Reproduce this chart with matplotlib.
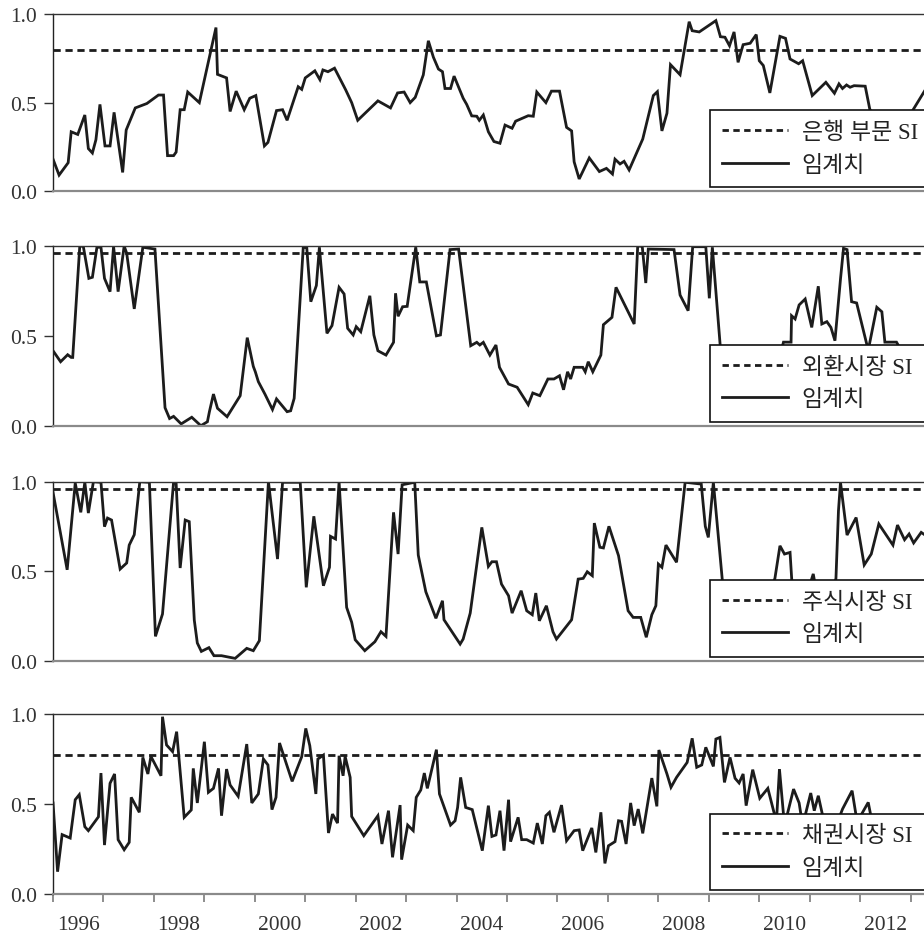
import matplotlib
matplotlib.use("Agg")
import matplotlib.pyplot as plt
from matplotlib.font_manager import FontProperties
from matplotlib.lines import Line2D

plt.rcParams['font.family'] = ['Liberation Serif', 'Noto Sans CJK KR', 'DejaVu Sans']

# 은행 부문 SI
bank_year = [1996.00, 1996.12, 1996.30, 1996.36, 1996.49, 1996.63, 1996.70, 1996.78, 1996.85, 1996.93,
             1997.03, 1997.13, 1997.21, 1997.38, 1997.45, 1997.63, 1997.86, 1998.09, 1998.19, 1998.27,
             1998.39, 1998.44, 1998.52, 1998.60, 1998.67, 1998.90, 1999.23, 1999.26, 1999.44, 1999.51,
             1999.63, 1999.79, 1999.90, 2000.02, 2000.19, 2000.26, 2000.43, 2000.55, 2000.64, 2000.86,
             2000.93, 2001.00, 2001.19, 2001.29, 2001.35, 2001.45, 2001.58, 2001.80, 2001.92, 2002.04,
             2002.44, 2002.69, 2002.83, 2002.96, 2003.08, 2003.18, 2003.34, 2003.44, 2003.54, 2003.64,
             2003.72, 2003.77, 2003.88, 2003.95, 2004.13, 2004.20, 2004.30, 2004.40, 2004.45, 2004.53,
             2004.63, 2004.74, 2004.86, 2004.96, 2005.10, 2005.17, 2005.42, 2005.52, 2005.59, 2005.77,
             2005.88, 2006.04, 2006.18, 2006.28, 2006.33, 2006.43, 2006.63, 2006.83, 2006.97, 2007.09,
             2007.14, 2007.24, 2007.32, 2007.42, 2007.69, 2007.90, 2007.98, 2008.07, 2008.17, 2008.24,
             2008.43, 2008.61, 2008.67, 2008.81, 2009.14, 2009.23, 2009.32, 2009.41, 2009.50, 2009.58,
             2009.68, 2009.82, 2009.94, 2010.00, 2010.08, 2010.21, 2010.41, 2010.52, 2010.61, 2010.78,
             2010.86, 2011.05, 2011.32, 2011.49, 2011.58, 2011.65, 2011.73, 2011.80, 2011.88, 2012.10,
             2012.19, 2012.35, 2012.60, 2012.85, 2013.05, 2013.35]
bank_si = [0.18, 0.09, 0.16, 0.335, 0.32, 0.43, 0.24, 0.215, 0.29, 0.49,
           0.255, 0.255, 0.445, 0.105, 0.345, 0.47, 0.495, 0.543, 0.543, 0.20,
           0.20, 0.22, 0.46, 0.46, 0.56, 0.50, 0.925, 0.66, 0.64, 0.45,
           0.565, 0.46, 0.525, 0.54, 0.255, 0.275, 0.455, 0.46, 0.40, 0.59,
           0.575, 0.64, 0.68, 0.63, 0.685, 0.675, 0.695, 0.573, 0.50, 0.40,
           0.51, 0.47, 0.555, 0.56, 0.50, 0.53, 0.657, 0.85, 0.757, 0.69,
           0.675, 0.58, 0.58, 0.65, 0.525, 0.49, 0.425, 0.423, 0.40, 0.43,
           0.335, 0.28, 0.27, 0.373, 0.355, 0.395, 0.426, 0.423, 0.56, 0.50,
           0.565, 0.565, 0.36, 0.34, 0.165, 0.068, 0.187, 0.11, 0.128, 0.096,
           0.18, 0.153, 0.168, 0.119, 0.294, 0.54, 0.562, 0.34, 0.44, 0.715,
           0.658, 0.958, 0.907, 0.90, 0.964, 0.873, 0.87, 0.822, 0.90, 0.728,
           0.828, 0.836, 0.885, 0.737, 0.71, 0.555, 0.875, 0.864, 0.747, 0.72,
           0.737, 0.54, 0.615, 0.553, 0.606, 0.58, 0.60, 0.587, 0.596, 0.593,
           0.464, 0.38, 0.32, 0.36, 0.46, 0.60]

# 외환시장 SI
fx_year = [1996.00, 1996.15, 1996.29, 1996.36, 1996.39, 1996.53, 1996.60, 1996.71, 1996.78, 1996.87,
           1996.95, 1997.02, 1997.13, 1997.20, 1997.29, 1997.41, 1997.46, 1997.61, 1997.78, 1998.02,
           1998.22, 1998.31, 1998.39, 1998.54, 1998.75, 1998.93, 1999.06, 1999.10, 1999.18, 1999.26,
           1999.45, 1999.71, 1999.85, 1999.97, 2000.01, 2000.07, 2000.20, 2000.35, 2000.43, 2000.64,
           2000.71, 2000.78, 2000.96, 2001.03, 2001.11, 2001.22, 2001.28, 2001.43, 2001.53, 2001.67,
           2001.77, 2001.84, 2001.95, 2002.01, 2002.10, 2002.28, 2002.36, 2002.44, 2002.60, 2002.75,
           2002.79, 2002.84, 2002.93, 2003.02, 2003.19, 2003.27, 2003.40, 2003.60, 2003.68, 2003.87,
           2004.04, 2004.28, 2004.40, 2004.46, 2004.53, 2004.66, 2004.78, 2004.85, 2005.03, 2005.20,
           2005.42, 2005.51, 2005.65, 2005.81, 2005.93, 2006.04, 2006.12, 2006.20, 2006.26, 2006.33,
           2006.50, 2006.55, 2006.61, 2006.70, 2006.86, 2006.91, 2007.08, 2007.16, 2007.52, 2007.59,
           2007.68, 2007.75, 2007.80, 2008.31, 2008.43, 2008.59, 2008.68, 2008.94, 2009.01, 2009.07,
           2009.25, 2009.50, 2009.80, 2010.10, 2010.40, 2010.48, 2010.63, 2010.64, 2010.71, 2010.79,
           2010.91, 2011.04, 2011.17, 2011.24, 2011.34, 2011.42, 2011.50, 2011.61, 2011.67, 2011.74,
           2011.83, 2011.93, 2012.16, 2012.33, 2012.43, 2012.49, 2012.72, 2012.90, 2013.35]
fx_si = [0.417, 0.356, 0.395, 0.38, 0.38, 1.0, 0.998, 0.82, 0.826, 0.993,
         0.993, 0.82, 0.746, 0.998, 0.746, 1.0, 0.96, 0.65, 0.993, 0.983,
         0.10, 0.04, 0.052, 0.01, 0.047, 0.0, 0.022, 0.078, 0.176, 0.097,
         0.05, 0.167, 0.49, 0.33, 0.30, 0.245, 0.176, 0.09, 0.149, 0.078,
         0.083, 0.152, 0.993, 0.99, 0.69, 0.78, 0.993, 0.514, 0.557, 0.77,
         0.733, 0.542, 0.505, 0.551, 0.523, 0.723, 0.505, 0.417, 0.393, 0.464,
         0.737, 0.609, 0.662, 0.664, 0.993, 0.80, 0.80, 0.50, 0.505, 0.98,
         0.983, 0.445, 0.464, 0.449, 0.464, 0.393, 0.449, 0.325, 0.232, 0.214,
         0.117, 0.182, 0.167, 0.26, 0.26, 0.278, 0.20, 0.30, 0.26, 0.325,
         0.325, 0.30, 0.356, 0.30, 0.393, 0.562, 0.603, 0.77, 0.566, 1.0,
         0.998, 0.794, 0.983, 0.98, 0.727, 0.64, 0.996, 0.996, 0.709, 0.993,
         0.36, 0.27, 0.31, 0.28, 0.38, 0.465, 0.465, 0.612, 0.594, 0.672,
         0.705, 0.547, 0.776, 0.566, 0.579, 0.547, 0.473, 0.816, 0.987, 0.98,
         0.69, 0.683, 0.42, 0.659, 0.634, 0.465, 0.465, 0.38, 0.40]

# 주식시장 SI
stock_year = [1996.00, 1996.28, 1996.44, 1996.55, 1996.63, 1996.70, 1996.80, 1996.95, 1997.02, 1997.08,
              1997.16, 1997.33, 1997.46, 1997.51, 1997.61, 1997.72, 1997.91, 1998.03, 1998.17, 1998.39,
              1998.44, 1998.52, 1998.62, 1998.70, 1998.80, 1998.86, 1998.94, 1999.09, 1999.19, 1999.34,
              1999.61, 1999.84, 1999.97, 2000.09, 2000.27, 2000.45, 2000.55, 2000.90, 2001.02, 2001.17,
              2001.36, 2001.48, 2001.50, 2001.60, 2001.67, 2001.82, 2001.92, 2001.99, 2002.18, 2002.38,
              2002.50, 2002.60, 2002.75, 2002.84, 2002.92, 2003.17, 2003.24, 2003.39, 2003.59, 2003.72,
              2003.75, 2004.07, 2004.13, 2004.27, 2004.50, 2004.63, 2004.70, 2004.79, 2004.89, 2005.03,
              2005.10, 2005.28, 2005.39, 2005.50, 2005.57, 2005.64, 2005.78, 2005.91, 2005.98, 2006.28,
              2006.41, 2006.51, 2006.59, 2006.69, 2006.73, 2006.84, 2006.91, 2007.02, 2007.21, 2007.40,
              2007.50, 2007.65, 2007.76, 2007.87, 2007.95, 2008.00, 2008.07, 2008.15, 2008.36, 2008.53,
              2008.85, 2008.93, 2008.99, 2009.09, 2009.30, 2009.60, 2009.90, 2010.20, 2010.31, 2010.41,
              2010.50, 2010.61, 2010.66, 2010.90, 2011.07, 2011.15, 2011.40, 2011.52, 2011.57, 2011.61,
              2011.74, 2011.92, 2012.08, 2012.22, 2012.37, 2012.65, 2012.74, 2012.88, 2012.97, 2013.06,
              2013.21, 2013.35]
stock_si = [0.94, 0.508, 0.993, 0.829, 0.997, 0.825, 1.0, 0.997, 0.749, 0.797,
            0.786, 0.512, 0.546, 0.646, 0.704, 1.0, 0.997, 0.136, 0.261, 1.0,
            0.993, 0.518, 0.786, 0.777, 0.227, 0.099, 0.052, 0.073, 0.028, 0.028,
            0.013, 0.069, 0.056, 0.112, 1.0, 0.568, 0.997, 0.997, 0.41, 0.807,
            0.419, 0.522, 0.695, 0.68, 1.0, 0.298, 0.215, 0.117, 0.056, 0.106,
            0.162, 0.136, 0.829, 0.596, 0.983, 0.997, 0.59, 0.385, 0.237, 0.335,
            0.229, 0.093, 0.121, 0.266, 0.745, 0.527, 0.553, 0.553, 0.428, 0.363,
            0.266, 0.391, 0.279, 0.257, 0.378, 0.223, 0.307, 0.162, 0.121, 0.229,
            0.456, 0.46, 0.497, 0.475, 0.769, 0.634, 0.63, 0.751, 0.587, 0.279,
            0.242, 0.242, 0.131, 0.257, 0.307, 0.54, 0.522, 0.646, 0.55, 0.997,
            0.987, 0.751, 0.689, 0.997, 0.35, 0.28, 0.33, 0.38, 0.46, 0.642,
            0.596, 0.605, 0.38, 0.33, 0.485, 0.36, 0.33, 0.46, 0.838, 0.997,
            0.702, 0.80, 0.535, 0.596, 0.764, 0.646, 0.758, 0.676, 0.708, 0.658,
            0.717, 0.69]

# 채권시장 SI
bond_year = [1996.00, 1996.09, 1996.18, 1996.34, 1996.44, 1996.52, 1996.63, 1996.70, 1996.90, 1996.95,
             1997.02, 1997.13, 1997.22, 1997.29, 1997.41, 1997.51, 1997.55, 1997.71, 1997.78, 1997.88,
             1997.94, 1998.14, 1998.17, 1998.25, 1998.37, 1998.45, 1998.60, 1998.74, 1998.78, 1998.86,
             1999.00, 1999.08, 1999.18, 1999.28, 1999.34, 1999.44, 1999.51, 1999.67, 1999.84, 1999.94,
             2000.07, 2000.17, 2000.26, 2000.34, 2000.42, 2000.49, 2000.74, 2000.93, 2001.01, 2001.09,
             2001.21, 2001.25, 2001.36, 2001.46, 2001.54, 2001.64, 2001.67, 2001.75, 2001.79, 2001.89,
             2001.92, 2002.16, 2002.44, 2002.52, 2002.65, 2002.73, 2002.88, 2002.91, 2003.03, 2003.14,
             2003.20, 2003.29, 2003.36, 2003.42, 2003.60, 2003.66, 2003.88, 2003.97, 2004.02, 2004.08,
             2004.18, 2004.31, 2004.51, 2004.63, 2004.70, 2004.78, 2004.86, 2004.94, 2005.03, 2005.07,
             2005.22, 2005.29, 2005.39, 2005.52, 2005.60, 2005.70, 2005.77, 2005.84, 2005.93, 2006.08,
             2006.18, 2006.33, 2006.43, 2006.50, 2006.68, 2006.76, 2006.86, 2006.94, 2007.01, 2007.14,
             2007.21, 2007.27, 2007.36, 2007.45, 2007.52, 2007.60, 2007.69, 2007.87, 2007.97, 2008.01,
             2008.17, 2008.25, 2008.36, 2008.57, 2008.67, 2008.76, 2008.86, 2008.94, 2009.09, 2009.14,
             2009.22, 2009.31, 2009.42, 2009.52, 2009.60, 2009.68, 2009.74, 2009.87, 2010.01, 2010.17,
             2010.34, 2010.40, 2010.50, 2010.68, 2010.79, 2010.86, 2011.02, 2011.09, 2011.17, 2011.30,
             2011.50, 2011.65, 2011.84, 2011.94, 2012.16, 2012.25, 2012.60, 2013.00, 2013.35]
bond_si = [0.506, 0.124, 0.33, 0.311, 0.524, 0.552, 0.374, 0.352, 0.429, 0.672,
           0.272, 0.615, 0.667, 0.302, 0.246, 0.287, 0.537, 0.454, 0.759, 0.667,
           0.765, 0.657, 0.985, 0.828, 0.791, 0.902, 0.426, 0.467, 0.698, 0.506,
           0.846, 0.565, 0.587, 0.698, 0.435, 0.694, 0.606, 0.543, 0.833, 0.506,
           0.556, 0.75, 0.717, 0.469, 0.537, 0.839, 0.626, 0.763, 0.92, 0.824,
           0.556, 0.75, 0.772, 0.339, 0.444, 0.394, 0.768, 0.657, 0.765, 0.648,
           0.431, 0.324, 0.435, 0.278, 0.463, 0.204, 0.494, 0.191, 0.383, 0.352,
           0.537, 0.578, 0.672, 0.587, 0.802, 0.556, 0.383, 0.407, 0.481, 0.648,
           0.481, 0.469, 0.241, 0.491, 0.32, 0.328, 0.463, 0.241, 0.524, 0.291,
           0.426, 0.302, 0.302, 0.283, 0.394, 0.278, 0.435, 0.454, 0.343, 0.494,
           0.296, 0.352, 0.356, 0.241, 0.367, 0.231, 0.454, 0.17, 0.268, 0.291,
           0.407, 0.404, 0.278, 0.506, 0.38, 0.472, 0.337, 0.644, 0.487, 0.80,
           0.667, 0.593, 0.648, 0.731, 0.865, 0.704, 0.717, 0.815, 0.709, 0.861,
           0.87, 0.62, 0.759, 0.643, 0.617, 0.667, 0.491, 0.691, 0.532, 0.587,
           0.40, 0.694, 0.38, 0.583, 0.506, 0.38, 0.561, 0.463, 0.546, 0.38,
           0.36, 0.472, 0.574, 0.40, 0.509, 0.38, 0.33, 0.36, 0.35]

labels = ['은행 부문 SI', '외환시장 SI', '주식시장 SI', '채권시장 SI']
thresholds = [0.80, 0.96, 0.96, 0.77]
series = [(bank_year, bank_si), (fx_year, fx_si), (stock_year, stock_si), (bond_year, bond_si)]
year_labels = ['1996', '1998', '2000', '2002', '2004', '2006', '2008', '2010', '2012']

# panel boxes (figure fraction); right edge runs past the picture like the source
boxes = [(0.0574, 0.7951, 0.9827, 0.1886),
         (0.0574, 0.5446, 0.9827, 0.1918),
         (0.0574, 0.2938, 0.9827, 0.1910),
         (0.0574, 0.0448, 0.9827, 0.1921)]

ink = '#1c1c1c'
fig = plt.figure(figsize=(9.24, 9.37), dpi=100)
leg_font = FontProperties(family=['Liberation Serif', 'Noto Sans CJK KR'], size=16.5)

for i, (box, (yr, si), lab, thr) in enumerate(zip(boxes, series, labels, thresholds)):
    ax = fig.add_axes(box)
    ax.plot(yr, si, color=ink, lw=2.0, solid_joinstyle='miter')
    ax.axhline(thr, color=ink, lw=2.0, dashes=(2.6, 1.7))
    ax.set_xlim(1996, 2014)
    ax.set_ylim(0, 1)
    ax.set_yticks([0, 0.5, 1.0])
    ax.set_yticklabels(['0.0', '0.5', '1.0'])
    ax.tick_params(axis='y', direction='out', length=6.5, width=1, pad=5,
                   labelsize=15.5, colors='#333333')
    ax.spines['right'].set_visible(False)
    ax.spines['top'].set_color('#333333')
    ax.spines['top'].set_linewidth(1.0)
    ax.spines['left'].set_color('#222222')
    ax.spines['left'].set_linewidth(1.0)
    ax.spines['bottom'].set_color('#8a8a8a')
    ax.spines['bottom'].set_linewidth(1.6)

    if i < 3:
        ax.set_xticks([])
    else:
        ax.set_xticks(range(1996, 2015))
        ax.set_xticklabels([])
        ax.tick_params(axis='x', which='major', direction='out', length=6,
                       width=1.2, color='#7a7a7a')
        ax.set_xticks([int(y) + 0.5 for y in year_labels], minor=True)
        ax.set_xticklabels(year_labels, minor=True)
        ax.tick_params(axis='x', which='minor', length=0, pad=15,
                       labelsize=15.5, labelcolor='#333333')

    # legend box runs off the right edge of the picture, as in the source
    leg_dash = Line2D([], [], color=ink, lw=2.0, dashes=(2.3, 1.6))
    leg_solid = Line2D([], [], color=ink, lw=2.0)
    leg = ax.legend([leg_dash, leg_solid], [lab, '임계치'], loc='lower left',
                    bbox_to_anchor=(0.7236, 0.022, 0.30, 0.0), mode='expand',
                    borderaxespad=0, fancybox=False, framealpha=1,
                    edgecolor='#111111', handlelength=2.9, handletextpad=0.6,
                    borderpad=0.5, labelspacing=0.5, prop=leg_font)
    leg.get_frame().set_linewidth(1.2)
    for t in leg.get_texts():
        t.set_color('#222222')

fig.savefig('out.png', dpi=100)
